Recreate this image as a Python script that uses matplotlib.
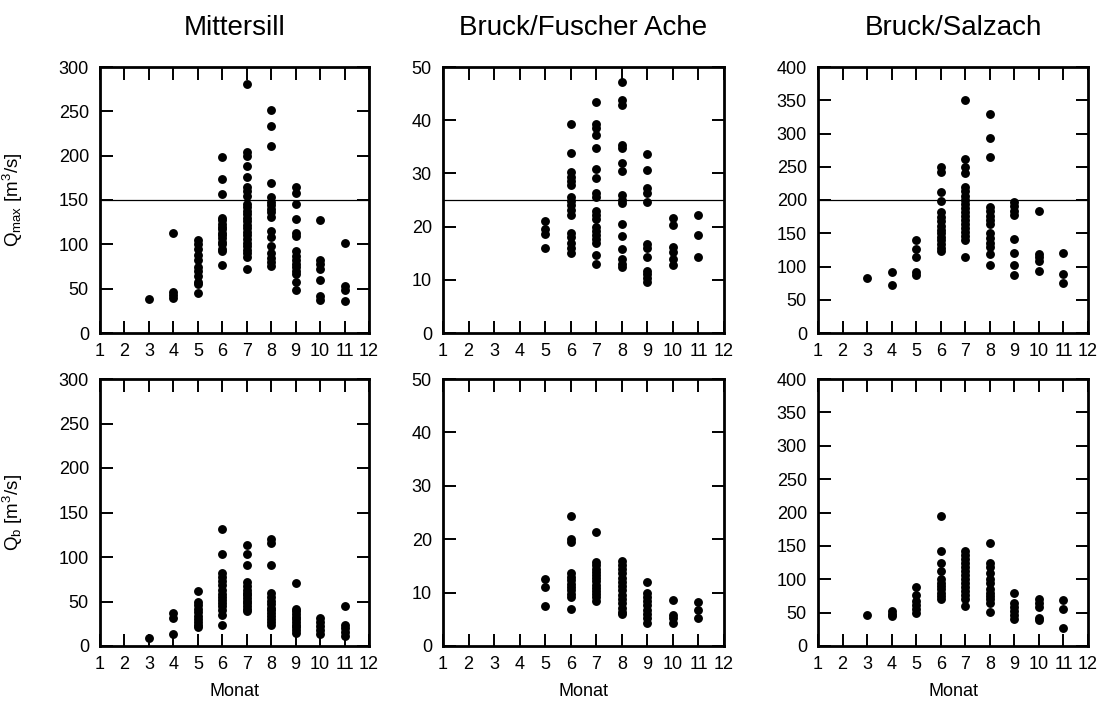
import matplotlib
matplotlib.use("Agg")
import matplotlib.pyplot as plt

plt.rcParams['font.family'] = ['Liberation Sans', 'DejaVu Sans']
plt.rcParams['mathtext.fontset'] = 'custom'
plt.rcParams['mathtext.rm'] = 'Liberation Sans'
plt.rcParams['mathtext.it'] = 'Liberation Sans'
plt.rcParams['mathtext.default'] = 'regular'

# station names
stations = ["Mittersill", "Bruck/Fuscher Ache", "Bruck/Salzach"]
months = list(range(1, 13))

# Q_max per month
mitt_qmax = {
    3: [38],
    4: [113, 46, 43, 40],
    5: [105, 100, 95, 88, 82, 75, 70, 64, 58, 55, 45],
    6: [199, 174, 157, 130, 127, 123, 120, 117, 113, 110, 107, 103, 100, 95, 92, 77],
    7: [281, 204, 200, 188, 176, 165, 160, 154, 145, 142, 138, 134, 130, 126, 122,
        118, 114, 110, 106, 102, 98, 94, 90, 86, 72],
    8: [251, 233, 211, 169, 153, 148, 144, 140, 136, 131, 115, 108, 98, 90, 85, 80, 76],
    9: [165, 158, 145, 129, 113, 109, 92, 87, 82, 78, 74, 70, 66, 57, 48],
    10: [127, 82, 78, 72, 60, 42, 37],
    11: [102, 53, 49, 36],
}
fusch_qmax = {
    5: [21, 19.5, 18.7, 16],
    6: [39.3, 33.9, 30.2, 29.4, 28.6, 27.8, 25.6, 24.8, 24, 23.2, 22.2, 18.8, 18, 17, 16, 15],
    7: [43.4, 39.2, 38.5, 37.2, 34.7, 30.8, 29.2, 26.3, 25.6, 23, 22.2, 21.5, 20, 19.2,
        18.4, 17.6, 17, 14.7, 13],
    8: [47.2, 43.8, 42.8, 35.3, 34.7, 31.9, 30.4, 26, 25, 24.4, 20.4, 18.3, 15.8, 14, 13, 12.5],
    9: [33.7, 30.6, 27.2, 26.3, 24.7, 16.8, 16, 14.2, 11.7, 11, 10.3, 9.6],
    10: [21.7, 20.3, 16.1, 15.2, 14, 12.8],
    11: [22.2, 18.4, 14.2],
}
salz_qmax = {
    3: [83],
    4: [91, 72],
    5: [140, 127, 114, 91, 87],
    6: [249, 242, 212, 198, 182, 175, 168, 161, 155, 150, 145, 140, 134, 128, 124],
    7: [351, 261, 249, 240, 220, 213, 206, 200, 194, 188, 182, 176, 170, 164, 158,
        152, 146, 140, 114],
    8: [329, 293, 265, 189, 183, 176, 170, 164, 150, 143, 136, 129, 119, 102],
    9: [197, 191, 184, 177, 141, 120, 102, 87],
    10: [184, 119, 114, 109, 93],
    11: [120, 89, 75],
}

# Q_b per month
mitt_qb = {
    3: [8.6],
    4: [37, 31, 14],
    5: [62, 50, 46, 42, 38, 34, 30, 27, 24, 21],
    6: [132, 103, 82, 78, 73, 68, 63, 58, 55, 52, 48, 45, 40, 35, 24],
    7: [114, 103, 91, 72, 67, 63, 60, 57, 54, 51, 48, 45, 42, 39],
    8: [120, 116, 91, 59, 55, 51, 47, 43, 40, 37, 34, 30, 27, 24],
    9: [71, 42, 39, 36, 33, 30, 27, 24, 21, 18, 15],
    10: [31, 27, 22, 18, 14],
    11: [45, 24, 20, 16, 11],
}
fusch_qb = {
    5: [12.6, 11, 7.5],
    6: [24.3, 20.1, 19.4, 13.7, 13, 12.3, 11.7, 11, 10.4, 9.8, 9.2, 6.9],
    7: [21.4, 15.7, 15.1, 14.5, 13.9, 13.3, 12.7, 12.1, 11.5, 10.9, 10.3, 9.7, 9.1, 8.5],
    8: [16, 15.2, 14.4, 13.6, 12.8, 12, 11.2, 10.4, 9.6, 8.8, 8, 7.2, 6.4, 6],
    9: [12, 10, 9.2, 8.4, 7.6, 6.8, 6, 5.2, 4.4],
    10: [8.7, 5.8, 5.2, 4.4],
    11: [8.2, 6.8, 5.2],
}
salz_qb = {
    3: [46],
    4: [52, 48, 45],
    5: [89, 76, 68, 61, 55, 50],
    6: [195, 143, 125, 112, 100, 95, 90, 85, 80, 75, 70],
    7: [142, 136, 130, 124, 118, 112, 106, 100, 94, 88, 82, 76, 70, 60],
    8: [155, 125, 118, 110, 100, 95, 85, 80, 75, 70, 65, 51],
    9: [79, 65, 58, 52, 46, 40],
    10: [70, 65, 58, 42, 39],
    11: [69, 55, 27],
}

ymax = [300, 50, 400]
ystep = [50, 10, 50]
threshold = [150, 25, 200]

# axes boxes in pixels (left, right) and rows (top, bottom)
cols_px = [(100, 369), (443, 724), (818, 1088)]
rows_px = [(67, 333), (379, 646)]
W, H = 1104, 702

fig = plt.figure(figsize=(W / 100, H / 100), dpi=100)

data = [[mitt_qmax, fusch_qmax, salz_qmax], [mitt_qb, fusch_qb, salz_qb]]

for r in range(2):
    for c in range(3):
        x0, x1 = cols_px[c]
        y0, y1 = rows_px[r]
        ax = fig.add_axes([x0 / W, 1 - y1 / H, (x1 - x0) / W, (y1 - y0) / H])
        d = data[r][c]
        for m, vals in d.items():
            ax.plot([m] * len(vals), vals, 'o', color='black', markersize=6.4,
                    markeredgewidth=0, clip_on=False)
        if r == 0:
            ax.axhline(threshold[c], color='black', linewidth=0.9)
        ax.set_xlim(1, 12)
        ax.set_ylim(0, ymax[c])
        ax.set_xticks(months)
        ax.set_yticks(range(0, ymax[c] + 1, ystep[c]))
        ax.tick_params(direction='in', length=9, width=1.4, top=True, right=True,
                       labelsize=13)
        ax.tick_params(axis='y', pad=8)
        ax.tick_params(axis='x', pad=7)
        for s in ax.spines.values():
            s.set_linewidth(2)
        if r == 0:
            ax.text(0.5, 1 + 32 / 266, stations[c], transform=ax.transAxes,
                    ha='center', va='baseline', fontsize=20)
        else:
            ax.set_xlabel("Monat", fontsize=13)
            ax.xaxis.set_label_coords(0.5, -(683 - 646) / 266)
        if c == 0:
            if r == 0:
                ax.set_ylabel("Q$_{max}$ [m$^3$/s]", fontsize=13.5)
            else:
                ax.set_ylabel("Q$_b$ [m$^3$/s]", fontsize=13.5)
            ax.yaxis.set_label_coords((25 - x0) / (x1 - x0), 0.5)

fig.savefig("out.png", dpi=100)
